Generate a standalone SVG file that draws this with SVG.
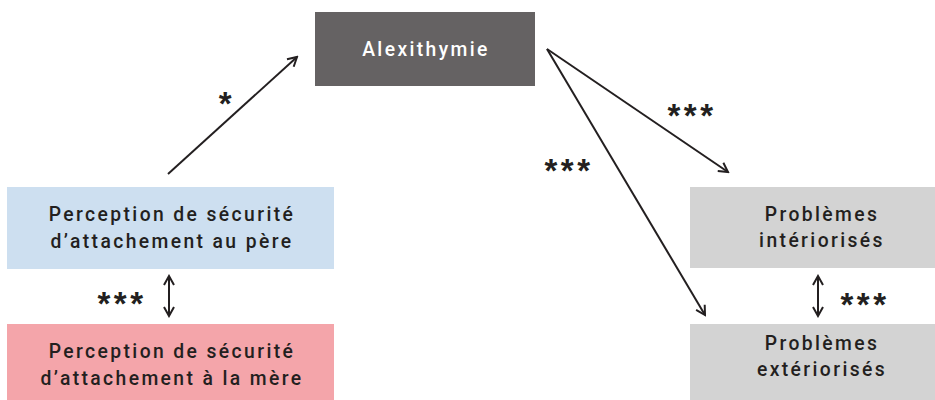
<svg xmlns="http://www.w3.org/2000/svg" width="935" height="400" viewBox="0 0 935 400">
<style>
.lbl{font-family:Roboto,"Liberation Sans",Arial,sans-serif;font-weight:500;font-size:21px;letter-spacing:2.6px;fill:#231f20;text-anchor:middle}
.wht{fill:#ffffff}
.star{font-family:"Liberation Sans",Arial,sans-serif;font-weight:bold;font-size:33px;letter-spacing:3.5px;fill:#231f20;text-anchor:middle}
.conn{stroke:#231f20;stroke-width:2;fill:none}
</style>
<defs>
<marker id="ah" viewBox="0 0 12 12" refX="10" refY="6" markerWidth="12" markerHeight="12" markerUnits="userSpaceOnUse" orient="auto-start-reverse">
<path d="M1,1 L10,6 L1,11" fill="none" stroke="#231f20" stroke-width="2"/>
</marker>
</defs>
<g id="alexithymie">
<rect x="315" y="12" width="220" height="74" fill="#656263"/>
<text class="lbl wht" transform="translate(426,56) scale(0.92,1)">Alexithymie</text>
</g>
<g id="pere">
<rect x="7" y="187" width="327" height="82" fill="#cddff0"/>
<text class="lbl" transform="translate(172,221) scale(0.92,1)">Perception de sécurité</text>
<text class="lbl" transform="translate(172,248) scale(0.92,1)">d’attachement au père</text>
</g>
<g id="mere">
<rect x="7" y="324" width="327" height="76" fill="#f4a5aa"/>
<text class="lbl" transform="translate(172,358) scale(0.92,1)">Perception de sécurité</text>
<text class="lbl" transform="translate(172,385) scale(0.92,1)">d’attachement à la mère</text>
</g>
<g id="interiorises">
<rect x="690" y="187" width="245" height="81" fill="#d3d3d3"/>
<text class="lbl" transform="translate(822,221) scale(0.92,1)">Problèmes</text>
<text class="lbl" transform="translate(822,247) scale(0.92,1)">intériorisés</text>
</g>
<g id="exteriorises">
<rect x="690" y="324" width="245" height="76" fill="#d3d3d3"/>
<text class="lbl" transform="translate(822,350) scale(0.92,1)">Problèmes</text>
<text class="lbl" transform="translate(822,376) scale(0.92,1)">extériorisés</text>
</g>
<g id="connectors">
<line class="conn" x1="168" y1="174" x2="297" y2="57" marker-end="url(#ah)"/>
<line class="conn" x1="547" y1="49" x2="728" y2="172" marker-end="url(#ah)"/>
<line class="conn" x1="547" y1="49" x2="705" y2="315" marker-end="url(#ah)"/>
<line class="conn" x1="169" y1="276" x2="169" y2="316" marker-start="url(#ah)" marker-end="url(#ah)"/>
<line class="conn" x1="818" y1="276" x2="818" y2="316" marker-start="url(#ah)" marker-end="url(#ah)"/>
</g>
<g id="labels">
<text class="star" x="227" y="115">*</text>
<text class="star" x="122" y="315">***</text>
<text class="star" x="865" y="316">***</text>
<text class="star" x="692" y="127">***</text>
<text class="star" x="569" y="182">***</text>
</g>
</svg>
